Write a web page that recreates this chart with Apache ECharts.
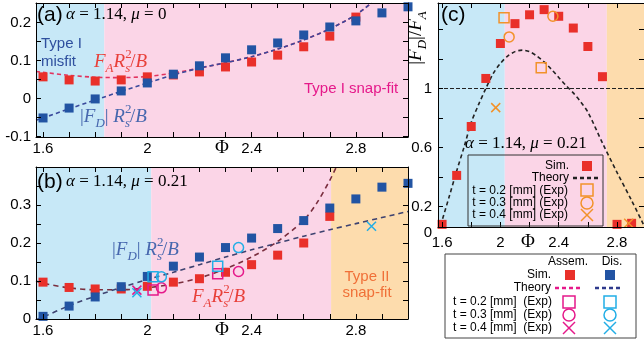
<!DOCTYPE html>
<html>
<head>
<meta charset="utf-8">
<title>Snap-fit forces</title>
<script src="https://cdn.jsdelivr.net/npm/echarts@6.0.0/dist/echarts.min.js"></script>
<style>
  html, body { margin: 0; padding: 0; background: #fff; }
  #chart { width: 644px; height: 345px; }
</style>
</head>
<body>
<div id="chart"></div>
<script>
// ---- values ----
// (a) alpha = 1.14, mu = 0
const phiA = [1.6, 1.7, 1.8, 1.9, 2.0, 2.1, 2.2, 2.3, 2.4, 2.5, 2.6, 2.7, 2.8, 2.9, 3.0];
const assemA = [0.057, 0.049, 0.046, 0.049, 0.057, 0.062, 0.070, 0.083, 0.096, 0.114, 0.136, 0.164, 0.214];
const disA = [-0.051, -0.025, -0.001, 0.020, 0.041, 0.064, 0.086, 0.107, 0.128, 0.146, 0.167, 0.188, 0.204, 0.225, 0.241];
const phiThA = [1.573, 1.6, 1.7, 1.8, 1.9, 2.0, 2.1, 2.2, 2.3, 2.4, 2.5, 2.6, 2.7, 2.8, 2.86];
const thAssemA = [0.071, 0.069, 0.061, 0.056, 0.055, 0.058, 0.067, 0.080, 0.094, 0.110, 0.130, 0.154, 0.183, 0.220, 0.251];
const thDisA = [-0.057, -0.051, -0.027, -0.004, 0.019, 0.041, 0.062, 0.080, 0.094, 0.110, 0.130, 0.154, 0.183, 0.220, 0.251];

// (b) alpha = 1.14, mu = 0.21
const phiB = [1.6, 1.7, 1.8, 1.9, 2.0, 2.1, 2.2, 2.3, 2.4, 2.5, 2.6, 2.7, 2.8, 2.9, 3.0];
const assemB = [0.097, 0.083, 0.079, 0.079, 0.086, 0.097, 0.106, 0.123, 0.143, 0.168, 0.200, 0.270];
const disB = [0.007, 0.034, 0.058, 0.085, 0.112, 0.139, 0.163, 0.188, 0.213, 0.238, 0.259, 0.292, 0.316, 0.347, 0.357];
const phiThAssemB = [1.573, 1.6, 1.7, 1.8, 1.9, 2.0, 2.1, 2.2, 2.3, 2.4, 2.5, 2.6, 2.65, 2.7, 2.725];
const thAssemB = [0.100, 0.094, 0.082, 0.077, 0.077, 0.082, 0.092, 0.108, 0.132, 0.163, 0.204, 0.260, 0.305, 0.365, 0.400];
const phiThDisB = [1.573, 1.6, 1.7, 1.8, 1.9, 2.0, 2.1, 2.2, 2.3, 2.4, 2.5, 2.6, 2.7, 2.8, 2.9, 3.0];
const thDisB = [-0.002, 0.005, 0.035, 0.060, 0.083, 0.104, 0.123, 0.143, 0.163, 0.182, 0.200, 0.218, 0.235, 0.251, 0.267, 0.283];
// experiments (t = 0.2 / 0.3 / 0.4 mm)
const expSqPhiB = [2.022, 2.27];
const expSqAssemB = [0.076, 0.119];
const expSqDisB = [0.111, 0.139];
const expCircPhiB = [2.054, 2.35];
const expCircAssemB = [0.082, 0.125];
const expCircDisB = [0.111, 0.188];
const expXAssemPhiB = [1.96];
const expXAssemB = [0.076];
const expXDisPhiB = [1.96, 2.86];
const expXDisB = [0.069, 0.244];

// (c) |F_D| / F_A
const phiC = [1.6, 1.7, 1.8, 1.9, 2.0, 2.1, 2.2, 2.3, 2.4, 2.5, 2.6, 2.7, 2.8, 2.9, 3.0];
const ratioC = [0.078, 0.41, 0.742, 1.068, 1.305, 1.44, 1.50, 1.535, 1.49, 1.41, 1.285, 1.08, 0.078, 0.085, 0.07];
const phiThC = [1.59, 1.65, 1.7, 1.75, 1.8, 1.85, 1.9, 1.95, 2.0, 2.05, 2.1, 2.15, 2.2, 2.25, 2.3, 2.35, 2.4, 2.45, 2.5, 2.55, 2.6, 2.7, 2.8, 2.9, 2.98];
const thC = [0.07, 0.27, 0.44, 0.60, 0.77, 0.89, 1.00, 1.10, 1.17, 1.22, 1.25, 1.26, 1.25, 1.22, 1.18, 1.13, 1.075, 1.02, 0.97, 0.91, 0.84, 0.63, 0.43, 0.24, 0.08];
const expSqPhiC = [2.025, 2.28];
const expSqC = [1.48, 1.14];
const expCircPhiC = [2.06, 2.36];
const expCircC = [1.35, 1.49];
const expXPhiC = [1.968, 2.88];
const expXC = [0.87, 0.085];

// regime boundaries in Phi
const regionsA = [1.835];
const regionsB = [2.015, 2.705];
const regionsC = [2.03, 2.73];

// ticks
const xTicks = [1.6, 1.7, 1.8, 1.9, 2.0, 2.1, 2.2, 2.3, 2.4, 2.5, 2.6, 2.7, 2.8, 2.9, 3.0];
const xTicksC = [1.6, 1.8, 2.0, 2.2, 2.4, 2.6, 2.8];
const xLabels = [1.6, 2, 2.4, 2.8];
const yTicksA = [-0.1, -0.05, 0, 0.05, 0.1, 0.15, 0.2, 0.25];
const yLabelsA = [-0.1, 0, 0.1, 0.2];
const yTicksB = [0, 0.05, 0.1, 0.15, 0.2, 0.25, 0.3, 0.35, 0.4];
const yLabelsB = [0, 0.1, 0.2, 0.3];
const yTicksC = [0.2, 0.4, 0.6, 0.8, 1.0, 1.2, 1.4];
const yLabelsC = [0.2, 0.6, 1];

const SANS = 'Liberation Sans, Arial, sans-serif';
const SERIF = 'Liberation Serif, Times New Roman, serif';
const RED = '#e9302a', BLUE = '#2254a3', MAGENTA = '#e5198a', CYAN = '#22aee6', ORANGE = '#f2922a';
const BG_BLUE = '#c7e8f7', BG_PINK = '#fbd5e7', BG_ORANGE = '#fddcad';

const pts = (xs, ys) => ys.map((y, i) => [xs[i], y]);
const X_PATH = 'path://M0,0L10,10M0,10L10,0';

function axis(grid, pos, min, max, ticks, labels, margin) {
  return {
    type: 'value', gridIndex: grid, position: pos, min: min, max: max, z: 10,
    axisLine: { show: true, onZero: false, lineStyle: { color: '#000', width: 1 } },
    axisTick: { show: true, inside: true, length: 5, customValues: ticks, lineStyle: { color: '#000' } },
    axisLabel: {
      show: !!labels, customValues: labels || [], margin: margin || 5,
      fontFamily: SANS, fontSize: 15, color: '#000'
    },
    splitLine: { show: false }
  };
}

function bg(idx, edges, colors) {
  const b = [-10].concat(edges).concat([10]);
  const areas = [];
  for (let i = 0; i < colors.length; i++) {
    areas.push([{ xAxis: Math.max(b[i], 1.5), itemStyle: { color: colors[i], opacity: 1 } }, { xAxis: Math.min(b[i + 1], 3.0) }]);
  }
  return { type: 'line', xAxisIndex: idx, yAxisIndex: idx, data: [], silent: true, markArea: { silent: true, data: areas } };
}

function theory(idx, data, color, width, dash) {
  return {
    type: 'line', xAxisIndex: idx, yAxisIndex: idx, data: data, smooth: 0.3, symbol: 'none', z: 3,
    lineStyle: { color: color, width: width || 1.6, type: dash || [4, 3] }
  };
}

function sim(idx, data, color) {
  return {
    type: 'scatter', xAxisIndex: idx, yAxisIndex: idx, data: data, symbol: 'rect', symbolSize: 9, z: 4,
    itemStyle: { color: color, opacity: 1 }
  };
}

function exp(idx, data, color, symbol) {
  return {
    type: 'scatter', xAxisIndex: idx, yAxisIndex: idx, data: data, z: 5,
    symbol: symbol, symbolSize: symbol === X_PATH ? 9 : 10,
    itemStyle: { color: 'rgba(0,0,0,0)', borderColor: color, borderWidth: 1.5, opacity: 1 }
  };
}

function rich(color, size) {
  const s = Math.round(size * 0.66);
  return {
    r: { fill: color, fontFamily: SERIF, fontSize: size, lineHeight: size + 8 },
    i: { fill: color, fontFamily: SERIF, fontStyle: 'italic', fontSize: size, lineHeight: size + 8 },
    sub: { fill: color, fontFamily: SERIF, fontStyle: 'italic', fontSize: s, lineHeight: s + 7, verticalAlign: 'bottom' },
    sup: { fill: color, fontFamily: SERIF, fontSize: s, lineHeight: s, verticalAlign: 'top', width: 0 }
  };
}

function math(x, y, text, color, size, align, rotation) {
  return {
    type: 'text', x: x, y: y, z: 100, silent: true, rotation: rotation || 0,
    style: { text: text, rich: rich(color, size), fill: color, font: size + 'px ' + SERIF, align: align || 'left', verticalAlign: 'middle' }
  };
}

function txt(x, y, text, size, color, align, family) {
  return {
    type: 'text', x: x, y: y, z: 100, silent: true,
    style: { text: text, fill: color || '#000', font: size + 'px ' + (family || SANS), align: align || 'left', verticalAlign: 'middle' }
  };
}

function sq(cx, cy, color, hollow) {
  const h = hollow ? 6 : 5;
  return {
    type: 'rect', z: 100, shape: { x: cx - h, y: cy - h, width: 2 * h, height: 2 * h },
    style: hollow ? { fill: 'none', stroke: color, lineWidth: 1.5 } : { fill: color }
  };
}
function circ(cx, cy, color) {
  return { type: 'circle', z: 100, shape: { cx: cx, cy: cy, r: 6 }, style: { fill: 'none', stroke: color, lineWidth: 1.5 } };
}
function cross(cx, cy, color) {
  return [
    { type: 'line', z: 100, shape: { x1: cx - 6, y1: cy - 6, x2: cx + 6, y2: cy + 6 }, style: { stroke: color, lineWidth: 1.5 } },
    { type: 'line', z: 100, shape: { x1: cx - 6, y1: cy + 6, x2: cx + 6, y2: cy - 6 }, style: { stroke: color, lineWidth: 1.5 } }
  ];
}
function dashes(x1, x2, y, color) {
  return { type: 'line', z: 100, shape: { x1: x1, y1: y, x2: x2, y2: y }, style: { stroke: color, lineWidth: 2.5, lineDash: [4, 3] } };
}

const FA = '{i|F}{sub|A}{i|R}{sup|2}{sub|s}{r|/}{i|B}';
const FD = '{r||}{i|F}{sub|D}{r||} {i|R}{sup|2}{sub|s}{r|/}{i|B}';

let graphics = [
  // panel (a)
  txt(37, 15, '(a)', 21, '#000'),
  math(66, 15, '{i|α}{r| = 1.14, }{i|μ}{r| = 0}', '#000', 17),
  txt(41, 44, 'Type I', 15, '#2e4f9e'),
  txt(41, 62, 'misfit', 15, '#2e4f9e'),
  math(94, 62, FA, '#e8403a', 19),
  math(80, 117, FD, '#4767ae', 19),
  txt(304, 89, 'Type I snap-fit', 15, MAGENTA),
  txt(222, 148, 'Φ', 19, '#000', 'center', SERIF),
  // panel (b)
  txt(37, 182, '(b)', 21, '#000'),
  math(66, 182, '{i|α}{r| = 1.14, }{i|μ}{r| = 0.21}', '#000', 17),
  math(112, 250, FD, '#4767ae', 19),
  math(192, 297, FA, '#e8403a', 19),
  txt(367, 277, 'Type II', 15, '#f07038', 'center'),
  txt(367, 293, 'snap-fit', 15, '#f07038', 'center'),
  txt(222, 330, 'Φ', 19, '#000', 'center', SERIF),
  // panel (c)
  txt(441, 15, '(c)', 21, '#000'),
  math(465, 144, '{i|α}{r| = 1.14, }{i|μ}{r| = 0.21}', '#000', 17),
  txt(528, 242, 'Φ', 19, '#000', 'center', SERIF),
  txt(432, 233, '0', 15, '#000', 'right'),
  math(416, 38, '{r||}{i|F}{sub|D}{r||}{r|/}{i|F}{sub|A}', '#000', 19, 'center', Math.PI / 2),
  // legend inside (c)
  { type: 'rect', z: 99, shape: { x: 468, y: 155, width: 135, height: 71 }, style: { fill: 'none', stroke: '#333', lineWidth: 1 } },
  txt(569, 166, 'Sim.', 12, '#000', 'right'),
  sq(587, 166, RED),
  txt(569, 178, 'Theory', 12, '#000', 'right'),
  dashes(573, 601, 178, '#222'),
  txt(568, 191, 't = 0.2 [mm] (Exp)', 12, '#000', 'right'),
  sq(587, 190, ORANGE, true),
  txt(568, 203, 't = 0.3 [mm] (Exp)', 12, '#000', 'right'),
  circ(587, 203, ORANGE),
  txt(568, 215, 't = 0.4 [mm] (Exp)', 12, '#000', 'right'),
  // bottom legend
  { type: 'rect', z: 99, shape: { x: 445, y: 254, width: 191, height: 84 }, style: { fill: '#fff', stroke: '#444', lineWidth: 1 } },
  txt(568, 262, 'Assem.', 12, '#000', 'center'),
  txt(612, 262, 'Dis.', 12, '#000', 'center'),
  txt(551, 275, 'Sim.', 12, '#000', 'right'),
  sq(570, 275, RED),
  sq(610, 275, BLUE),
  txt(551, 288, 'Theory', 12, '#000', 'right'),
  dashes(555, 583, 288, MAGENTA),
  dashes(595, 623, 288, '#2e3a8c'),
  txt(552, 302, 't = 0.2 [mm]  (Exp)', 12, '#000', 'right'),
  sq(569, 302, MAGENTA, true),
  sq(610, 302, CYAN, true),
  txt(552, 315, 't = 0.3 [mm]  (Exp)', 12, '#000', 'right'),
  circ(569, 315, MAGENTA),
  circ(610, 315, CYAN),
  txt(552, 328, 't = 0.4 [mm]  (Exp)', 12, '#000', 'right')
];
graphics = graphics.concat(cross(587, 215, ORANGE), cross(569, 328, MAGENTA), cross(610, 328, CYAN));

const chart = echarts.init(document.getElementById('chart'));
chart.setOption({
  animation: false,
  grid: [
    { left: 36, top: 3, width: 372, height: 134 },
    { left: 36, top: 167, width: 372, height: 152 },
    { left: 438, top: 3, width: 206, height: 224 }
  ],
  xAxis: [
    axis(0, 'bottom', 1.573, 3.0, xTicks, xLabels, 4),
    axis(0, 'top', 1.573, 3.0, xTicks),
    axis(1, 'bottom', 1.573, 3.0, xTicks, xLabels, 4),
    axis(1, 'top', 1.573, 3.0, xTicks),
    axis(2, 'bottom', 1.572, 2.985, xTicksC, xLabels, 8),
    axis(2, 'top', 1.572, 2.985, xTicksC)
  ],
  yAxis: [
    axis(0, 'left', -0.101, 0.251, yTicksA, yLabelsA, 5),
    axis(0, 'right', -0.101, 0.251, yTicksA),
    axis(1, 'left', 0, 0.4, yTicksB, yLabelsB, 5),
    axis(1, 'right', 0, 0.4, yTicksB),
    axis(2, 'left', 0.06, 1.58, yTicksC, yLabelsC, 6),
    axis(2, 'right', 0.06, 1.58, yTicksC)
  ],
  series: [
    bg(0, regionsA, [BG_BLUE, BG_PINK]),
    bg(2, regionsB, [BG_BLUE, BG_PINK, BG_ORANGE]),
    bg(4, regionsC, [BG_BLUE, BG_PINK, BG_ORANGE]),

    theory(0, pts(phiThA, thAssemA), '#e2335f'),
    theory(0, pts(phiThA, thDisA), '#3a4a9c'),
    sim(0, pts(phiA, assemA), RED),
    sim(0, pts(phiA, disA), BLUE),

    theory(2, pts(phiThAssemB, thAssemB), '#7a2e3e', 1.6, [5, 4]),
    theory(2, pts(phiThDisB, thDisB), '#3d4270', 1.6, [5, 4]),
    sim(2, pts(phiB, assemB), RED),
    sim(2, pts(phiB, disB), BLUE),
    exp(2, pts(expSqPhiB, expSqAssemB), MAGENTA, 'rect'),
    exp(2, pts(expSqPhiB, expSqDisB), CYAN, 'rect'),
    exp(2, pts(expCircPhiB, expCircAssemB), MAGENTA, 'circle'),
    exp(2, pts(expCircPhiB, expCircDisB), CYAN, 'circle'),
    exp(2, pts(expXAssemPhiB, expXAssemB), MAGENTA, X_PATH),
    exp(2, pts(expXDisPhiB, expXDisB), CYAN, X_PATH),

    Object.assign(theory(4, pts(phiThC, thC), '#222', 1.6, [4, 3]), {
      markLine: {
        silent: true, symbol: 'none', label: { show: false },
        lineStyle: { color: '#222', type: [4, 2], width: 1.2 },
        data: [{ yAxis: 1 }]
      }
    }),
    sim(4, pts(phiC, ratioC), RED),
    exp(4, pts(expSqPhiC, expSqC), ORANGE, 'rect'),
    exp(4, pts(expCircPhiC, expCircC), ORANGE, 'circle'),
    exp(4, pts(expXPhiC, expXC), ORANGE, X_PATH)
  ],
  graphic: { elements: graphics }
});
</script>
</body>
</html>
